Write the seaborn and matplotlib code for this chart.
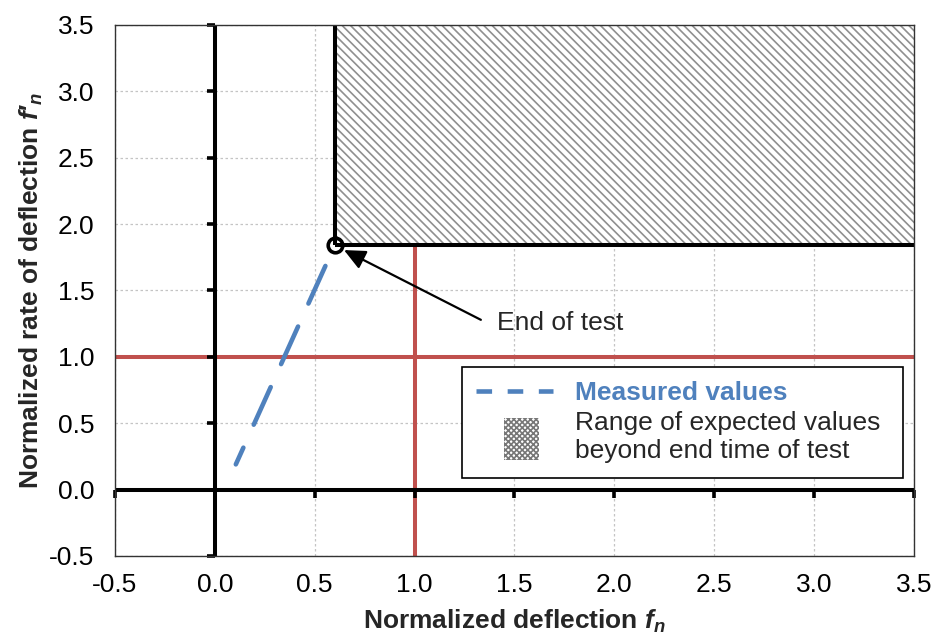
import matplotlib
matplotlib.use("Agg")
import matplotlib.pyplot as plt
import seaborn as sns
import pandas as pd
from matplotlib.patches import Rectangle, Patch
from matplotlib.lines import Line2D
from matplotlib.legend_handler import HandlerPatch
from matplotlib.markers import TICKLEFT, TICKDOWN

# ---------------- data ----------------
measured_fn = [0.105, 0.60]         # normalized deflection
measured_dfn = [0.19, 1.84]         # normalized rate of deflection
end_fn = 0.60
end_dfn = 1.84
ref_level = 1.0
x_ticks = [-0.5, 0.0, 0.5, 1.0, 1.5, 2.0, 2.5, 3.0, 3.5]
x_tick_labels = ["-0.5", "0.0", "0.5", "1.0", "1.5", "2.0", "2.5", "3.0", "3.5"]
y_ticks = [-0.5, 0.0, 0.5, 1.0, 1.5, 2.0, 2.5, 3.0, 3.5]
y_tick_labels = ["-0.5", "0.0", "0.5", "1.0", "1.5", "2.0", "2.5", "3.0", "3.5"]
x_label = r"Normalized deflection $f_{n}$"
y_label = "Normalized rate of deflection $f′_{n}$"
legend_labels = ["Measured values", "Range of expected values\nbeyond end time of test"]
annot_text = "End of test"

# ---------------- style ----------------
sns.set_style("white")
plt.rcParams["font.family"] = ["Liberation Sans", "DejaVu Sans"]
plt.rcParams["mathtext.fontset"] = "custom"
plt.rcParams["mathtext.rm"] = "Liberation Sans:bold"
plt.rcParams["mathtext.it"] = "Liberation Sans:italic:bold"
plt.rcParams["mathtext.bf"] = "Liberation Sans:bold"
plt.rcParams["hatch.linewidth"] = 1.2

BLUE = "#4F81BD"
RED = "#C0504D"
FS = 19

fig = plt.figure(figsize=(9.34, 6.37), dpi=100)
ax = fig.add_axes([0.1231, 0.1272, 0.8555, 0.8336])

xmin, xmax = x_ticks[0], x_ticks[-1]
ymin, ymax = y_ticks[0], y_ticks[-1]
ax.set_xlim(xmin, xmax)
ax.set_ylim(ymin, ymax)

# grid
ax.set_xticks(x_ticks)
ax.set_yticks(y_ticks)
ax.set_xticklabels(x_tick_labels)
ax.set_yticklabels(y_tick_labels)
ax.grid(True, color="#c4c4c4", linestyle=(0, (2, 2)), linewidth=0.9, zorder=0)
ax.set_axisbelow(True)
ax.tick_params(length=0, labelsize=FS, colors="black")
ax.tick_params(axis="x", pad=12)
ax.tick_params(axis="y", pad=15)
for s in ax.spines.values():
    s.set_linewidth(1.0)
    s.set_color("#333333")
    s.set_zorder(6)

# reference lines (red)
ax.axhline(ref_level, color=RED, lw=2.9, zorder=1.5)
ax.axvline(ref_level, color=RED, lw=2.9, zorder=1.5)

# expected range (hatched region)
ax.add_patch(Rectangle((end_fn, end_dfn), xmax - end_fn, ymax - end_dfn,
                       facecolor="white", edgecolor="#8f8f8f", hatch="\\\\\\\\",
                       lw=0, zorder=2))
ax.vlines(end_fn, end_dfn, ymax, color="black", lw=2.9, zorder=3)
ax.hlines(end_dfn, end_fn, xmax, color="black", lw=2.9, zorder=3)

# main axes lines through zero
ax.axhline(0, color="black", lw=2.9, zorder=3)
ax.axvline(0, color="black", lw=2.9, zorder=3)
ax.plot([0] * len(y_ticks), y_ticks, linestyle="none", marker=TICKLEFT,
        ms=6, mew=2.6, color="black", zorder=3, clip_on=False)
ax.plot(x_ticks, [0] * len(x_ticks), linestyle="none", marker=TICKDOWN,
        ms=6, mew=2.6, color="black", zorder=3, clip_on=False)

# measured values
df = pd.DataFrame({"fn": measured_fn, "dfn": measured_dfn})
sns.lineplot(data=df, x="fn", y="dfn", ax=ax, color=BLUE, lw=3.3,
             linestyle=(5, (9, 5.5)), dash_capstyle="round", zorder=4,
             legend=False, sort=False)

# end of test marker
ax.plot([end_fn], [end_dfn], marker="o", ms=10.5, mfc="none", mec="black",
        mew=2.6, linestyle="none", zorder=5)

ax.annotate(annot_text, xy=(end_fn, end_dfn), xytext=(1.41, 1.255),
            fontsize=FS, ha="left", va="center", zorder=6,
            arrowprops=dict(arrowstyle="-|>,head_length=0.65,head_width=0.3",
                            mutation_scale=20, lw=1.6, color="black",
                            shrinkA=10, shrinkB=7.5, relpos=(0, 0.3)))

ax.set_xlabel(x_label, fontsize=FS, fontweight="bold", labelpad=8)
ax.set_ylabel(y_label, fontsize=FS, fontweight="bold", labelpad=3)


# legend
def make_square(legend, orig_handle, xdescent, ydescent, width, height, fontsize):
    w, h = 25, 30
    cx = width / 2 + 5
    cy = height / 2 - 1
    return Rectangle((cx - w / 2 - xdescent, cy - h / 2 - ydescent), w, h)


h_meas = Line2D([], [], color=BLUE, lw=3.3, linestyle=(0, (3.4, 3.4)))
h_range = Patch(facecolor="white", edgecolor="#777777", hatch="xxxxxx", lw=0)
leg = ax.legend([h_meas, h_range], legend_labels, loc="upper left",
                bbox_to_anchor=(0.434, 0.158, 0.552, 0.198), mode="expand",
                borderaxespad=0,
                fontsize=FS, frameon=True, fancybox=False, framealpha=1,
                edgecolor="black", handlelength=2.9, handletextpad=0.86,
                borderpad=0.55, labelspacing=0.22,
                handler_map={Patch: HandlerPatch(patch_func=make_square)})
leg.get_frame().set_linewidth(1.2)
leg.set_zorder(7)
t0 = leg.get_texts()[0]
t0.set_color(BLUE)
t0.set_fontweight("bold")
for t in leg.get_texts():
    t.set_linespacing(1.2)

fig.savefig("out.png", dpi=100)
